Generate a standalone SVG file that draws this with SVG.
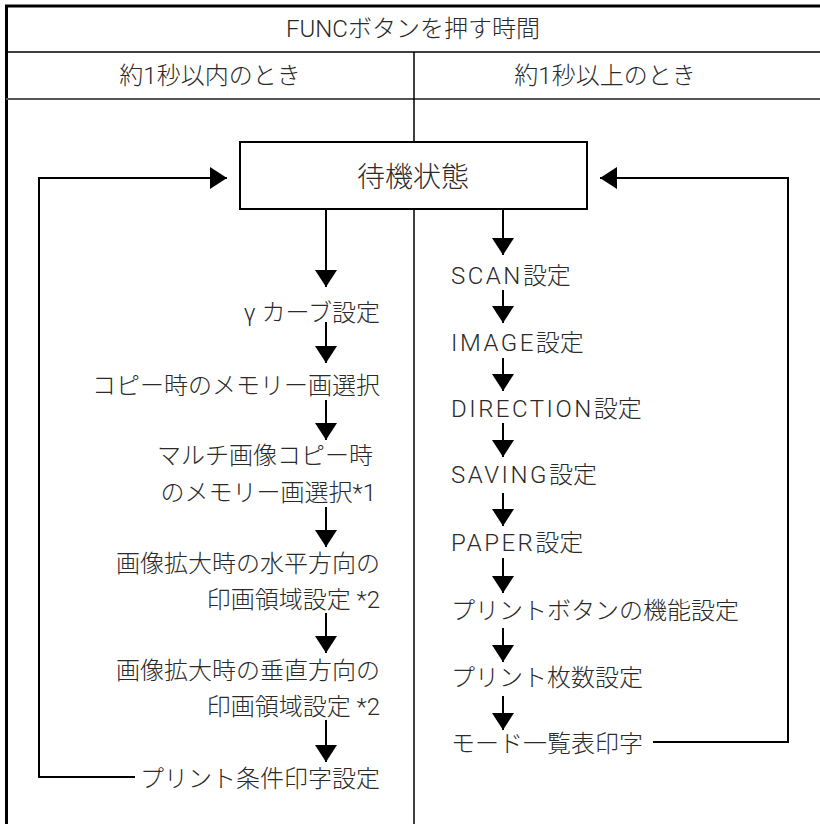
<svg xmlns="http://www.w3.org/2000/svg" width="820" height="824" viewBox="0 0 820 824">
<defs>
<marker id="ah" markerUnits="userSpaceOnUse" markerWidth="18" markerHeight="22" refX="17" refY="11" orient="auto">
<path d="M0,0 L17,11 L0,22 z" fill="#000"/>
</marker>
<style>
text{font-family:"Roboto","Noto Sans CJK JP",sans-serif;font-size:24px;font-weight:300;fill:#2a2a2a}
.e{text-anchor:end}
.m{text-anchor:middle}
.w{letter-spacing:2.5px}
.c{fill:none;stroke:#000;stroke-width:2}
</style>
</defs>
<rect width="820" height="824" fill="#fff"/>
<g id="table">
<path d="M6.5,824 V6 H820" fill="none" stroke="#000" stroke-width="3"/>
<line x1="6" y1="52" x2="820" y2="52" stroke="#000" stroke-width="1.5"/>
<line x1="6" y1="99" x2="820" y2="99" stroke="#555" stroke-width="2"/>
<line x1="414" y1="52" x2="414" y2="824" stroke="#000" stroke-width="1.5"/>
<text class="m" x="413" y="37">FUNCボタンを押す時間</text>
<text class="m" x="210" y="84">約1秒以内のとき</text>
<text class="m" x="605" y="84">約1秒以上のとき</text>
</g>
<g id="standby">
<rect x="240" y="142" width="347" height="67" fill="#fff" stroke="#000" stroke-width="2"/>
<text class="m" x="413" y="187" style="font-size:28px">待機状態</text>
</g>
<g id="left-nodes">
<text id="l1" class="e" x="380" y="321">γ カーブ設定</text>
<text id="l2" class="e" x="380" y="394">コピー時のメモリー画選択</text>
<g id="l3"><text class="e" x="373" y="464">マルチ画像コピー時</text><text class="e" x="376" y="501">のメモリー画選択*1</text></g>
<g id="l4"><text class="e" x="380" y="572">画像拡大時の水平方向の</text><text class="e" x="380" y="608">印画領域設定 *2</text></g>
<g id="l5"><text class="e" x="380" y="679">画像拡大時の垂直方向の</text><text class="e" x="380" y="715">印画領域設定 *2</text></g>
<text id="l6" class="e" x="380" y="787">プリント条件印字設定</text>
</g>
<g id="right-nodes">
<text id="r1" x="451" y="284"><tspan class="w">SCAN</tspan>設定</text>
<text id="r2" x="451" y="351"><tspan class="w">IMAGE</tspan>設定</text>
<text id="r3" x="451" y="417"><tspan class="w">DIRECTION</tspan>設定</text>
<text id="r4" x="451" y="483"><tspan class="w">SAVING</tspan>設定</text>
<text id="r5" x="451" y="551"><tspan class="w">PAPER</tspan>設定</text>
<text id="r6" x="451" y="619">プリントボタンの機能設定</text>
<text id="r7" x="451" y="686">プリント枚数設定</text>
<text id="r8" x="451" y="752">モード一覧表印字</text>
</g>
<g id="connectors">
<line class="c" x1="326" y1="209" x2="326" y2="287" marker-end="url(#ah)"/>
<line class="c" x1="326" y1="322" x2="326" y2="363" marker-end="url(#ah)"/>
<line class="c" x1="326" y1="400" x2="326" y2="440" marker-end="url(#ah)"/>
<line class="c" x1="326" y1="507" x2="326" y2="547" marker-end="url(#ah)"/>
<line class="c" x1="326" y1="613" x2="326" y2="653" marker-end="url(#ah)"/>
<line class="c" x1="326" y1="720" x2="326" y2="762" marker-end="url(#ah)"/>
<polyline class="c" points="135,777 39,777 39,178 227,178" marker-end="url(#ah)"/>
<line class="c" x1="503" y1="209" x2="503" y2="255" marker-end="url(#ah)"/>
<line class="c" x1="503" y1="290" x2="503" y2="323" marker-end="url(#ah)"/>
<line class="c" x1="503" y1="358" x2="503" y2="391" marker-end="url(#ah)"/>
<line class="c" x1="503" y1="423" x2="503" y2="457" marker-end="url(#ah)"/>
<line class="c" x1="503" y1="493" x2="503" y2="526" marker-end="url(#ah)"/>
<line class="c" x1="503" y1="558" x2="503" y2="593" marker-end="url(#ah)"/>
<line class="c" x1="503" y1="628" x2="503" y2="662" marker-end="url(#ah)"/>
<line class="c" x1="503" y1="696" x2="503" y2="730" marker-end="url(#ah)"/>
<polyline class="c" points="653,742 788,742 788,178 600,178" marker-end="url(#ah)"/>
</g>
</svg>
